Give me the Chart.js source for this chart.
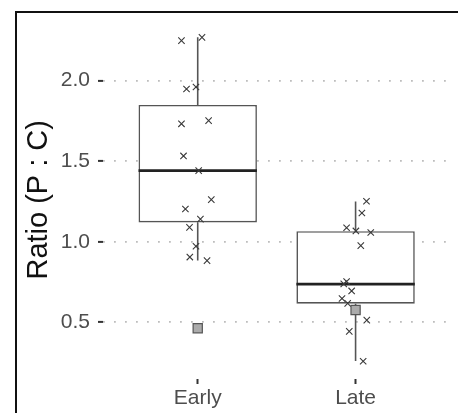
<!DOCTYPE html>
<html lang="en">
<head>
    <meta charset="UTF-8">
    <title>Ratio (P : C) - Early vs Late</title>
    <style>
        html, body { margin: 0; padding: 0; background: #fff; }
        .wrap { position: relative; width: 458px; height: 413px; overflow: hidden; }
        .frame { position: absolute; left: 15px; top: 11px; width: 500px; height: 500px;
                 border-left: 2px solid #111; border-top: 2px solid #111; }
        canvas { position: absolute; left: 0; top: 0; }
    </style>
</head>
<body>
    <div class="wrap">
        <div class="frame"></div>
        <canvas id="boxChart" width="458" height="413"></canvas>
    </div>

    <script src="https://cdn.jsdelivr.net/npm/chart.js"></script>
    <script>
        // Grupos e estatísticas das caixas
        const groups = ['Early', 'Late'];
        const boxLow = [1.12, 0.616];
        const boxHigh = [1.848, 1.065];
        const medians = [1.441, 0.737];
        const whiskerLow = [0.883, 0.26];
        const whiskerHigh = [2.267, 1.25];
        const yTicks = [0.5, 1.0, 1.5, 2.0];

        // Pontos individuais (valor e deslocamento horizontal do jitter)
        const earlyValues = [2.247, 2.267, 1.947, 1.959, 1.731, 1.751, 1.532, 1.441, 1.261, 1.203, 1.140, 1.089, 0.972, 0.905, 0.883];
        const earlyJitter = [-0.103, 0.027, -0.071, -0.011, -0.103, 0.069, -0.090, 0.006, 0.086, -0.078, 0.017, -0.052, -0.011, -0.050, 0.059];
        const lateValues = [1.251, 1.178, 1.087, 1.067, 1.057, 0.976, 0.739, 0.753, 0.695, 0.648, 0.618, 0.514, 0.444, 0.259];
        const lateJitter = [0.069, 0.040, -0.057, 0.002, 0.096, 0.033, -0.075, -0.057, -0.025, -0.086, -0.050, 0.071, -0.040, 0.048];

        // Quadrados cinzas
        const squareValues = [0.464, 0.577];

        const halfBox = 0.375;

        const boxData = groups.map((g, i) => ({ x: i + 1, y: [boxLow[i], boxHigh[i]] }));

        const whiskerData = [];
        groups.forEach((g, i) => {
            whiskerData.push({ x: i + 1, y: whiskerLow[i] }, { x: i + 1, y: boxLow[i] }, { x: i + 1, y: null });
            whiskerData.push({ x: i + 1, y: boxHigh[i] }, { x: i + 1, y: whiskerHigh[i] }, { x: i + 1, y: null });
        });

        const medianData = [];
        groups.forEach((g, i) => {
            medianData.push({ x: i + 1 - halfBox, y: medians[i] }, { x: i + 1 + halfBox, y: medians[i] }, { x: i + 1, y: null });
        });

        const pointData = earlyValues.map((v, i) => ({ x: 1 + earlyJitter[i], y: v }))
            .concat(lateValues.map((v, i) => ({ x: 2 + lateJitter[i], y: v })));

        const squareData = squareValues.map((v, i) => ({ x: i + 1, y: v }));

        const fontFamily = "'Liberation Sans', Arial, sans-serif";
        const tickFont = { family: fontFamily, size: 21 };

        const ctx = document.getElementById('boxChart').getContext('2d');
        new Chart(ctx, {
            type: 'bar',
            data: {
                datasets: [
                    {
                        type: 'scatter',
                        data: squareData,
                        pointStyle: 'rect',
                        pointRadius: 6.5,
                        backgroundColor: '#ababab',
                        borderColor: '#555',
                        borderWidth: 1.2,
                        order: 0
                    },
                    {
                        type: 'scatter',
                        data: pointData,
                        pointStyle: 'crossRot',
                        pointRadius: 4.5,
                        borderColor: '#3a3a3a',
                        borderWidth: 1.1,
                        order: 1
                    },
                    {
                        type: 'line',
                        data: medianData,
                        borderColor: '#222',
                        borderWidth: 2.8,
                        pointRadius: 0,
                        spanGaps: false,
                        order: 2
                    },
                    {
                        type: 'bar',
                        data: boxData,
                        backgroundColor: '#ffffff',
                        borderColor: '#555',
                        borderWidth: 1.6,
                        borderSkipped: false,
                        categoryPercentage: 1,
                        barPercentage: 0.75,
                        order: 3
                    },
                    {
                        type: 'line',
                        data: whiskerData,
                        borderColor: '#555',
                        borderWidth: 1.6,
                        pointRadius: 0,
                        spanGaps: false,
                        order: 4
                    }
                ]
            },
            options: {
                responsive: false,
                animation: false,
                layout: { padding: { top: 13, right: 4, left: 0, bottom: 0 } },
                plugins: {
                    legend: { display: false },
                    tooltip: { enabled: false }
                },
                scales: {
                    x: {
                        type: 'linear',
                        min: 0.4,
                        max: 2.6,
                        offset: false,
                        afterBuildTicks: (scale) => { scale.ticks = groups.map((g, i) => ({ value: i + 1 })); },
                        afterFit: (scale) => { scale.height = 34; },
                        ticks: {
                            callback: (v) => groups[v - 1],
                            color: '#4d4d4d',
                            font: tickFont,
                            padding: 2,
                            maxRotation: 0
                        },
                        grid: {
                            offset: false,
                            drawOnChartArea: false,
                            tickLength: 5,
                            tickColor: '#333',
                            tickWidth: 2
                        },
                        border: { display: false }
                    },
                    y: {
                        min: 0.149,
                        max: 2.371,
                        afterBuildTicks: (scale) => { scale.ticks = yTicks.map(v => ({ value: v })); },
                        afterFit: (scale) => { scale.width = 103; },
                        ticks: {
                            callback: (v) => v.toFixed(1),
                            color: '#4d4d4d',
                            font: tickFont,
                            padding: 8
                        },
                        grid: {
                            color: '#bdbdbd',
                            lineWidth: 1.8,
                            tickLength: 5,
                            tickColor: '#333',
                            tickWidth: 2,
                            tickBorderDash: []
                        },
                        border: { display: false, dash: [1.8, 9.2] },
                        title: {
                            display: true,
                            text: 'Ratio (P : C)',
                            color: '#111',
                            font: { family: fontFamily, size: 29 },
                            padding: { top: 22, bottom: 0 }
                        }
                    }
                }
            }
        });
    </script>
</body>
</html>
